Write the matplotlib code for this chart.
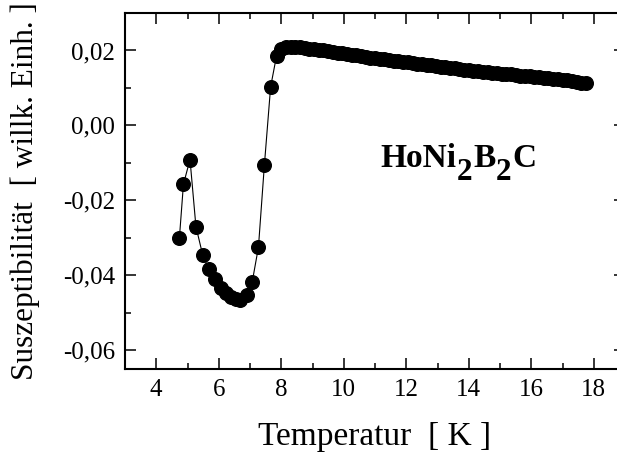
import matplotlib
matplotlib.use('Agg')
import matplotlib.pyplot as plt
from matplotlib.ticker import MultipleLocator, FuncFormatter

plt.rcParams['font.family'] = ['Liberation Serif', 'DejaVu Serif']

# temperature (K) and susceptibility (arb. units)
temp_low = [4.74, 4.87, 5.08, 5.27, 5.49, 5.69, 5.88, 6.06, 6.23, 6.39,
            6.55, 6.68, 6.89, 7.07, 7.27, 7.46, 7.66, 7.85]
chi_low = [-0.0301, -0.0157, -0.0091, -0.0270, -0.0347, -0.0384, -0.0410,
           -0.0433, -0.0448, -0.0458, -0.0464, -0.0467, -0.0453, -0.0418,
           -0.0325, -0.0106, 0.0103, 0.0186]

temp_high = [8.00, 8.15, 8.30, 8.45, 8.60, 8.75, 8.90, 9.05, 9.20, 9.35,
             9.50, 9.65, 9.80, 9.95, 10.10, 10.25, 10.40, 10.55, 10.70, 10.85,
             11.00, 11.15, 11.30, 11.45, 11.60, 11.75, 11.90, 12.05, 12.20, 12.35,
             12.50, 12.65, 12.80, 12.95, 13.10, 13.25, 13.40, 13.55, 13.70, 13.85,
             14.00, 14.15, 14.30, 14.45, 14.60, 14.75, 14.90, 15.05, 15.20, 15.35,
             15.50, 15.65, 15.80, 15.95, 16.10, 16.25, 16.40, 16.55, 16.70, 16.85,
             17.00, 17.15, 17.30, 17.45, 17.60, 17.75]
chi_high = [0.0203, 0.0208, 0.0210, 0.0210, 0.0209, 0.0207, 0.0205, 0.0203, 0.0201, 0.0200,
            0.0198, 0.0196, 0.0194, 0.0192, 0.0191, 0.0189, 0.0187, 0.0185, 0.0183, 0.0181,
            0.0179, 0.0178, 0.0176, 0.0174, 0.0172, 0.0171, 0.0169, 0.0168, 0.0166, 0.0164,
            0.0163, 0.0161, 0.0160, 0.0158, 0.0157, 0.0155, 0.0154, 0.0152, 0.0151, 0.0149,
            0.0148, 0.0146, 0.0145, 0.0143, 0.0142, 0.0141, 0.0139, 0.0138, 0.0137, 0.0136,
            0.0134, 0.0133, 0.0132, 0.0131, 0.0129, 0.0128, 0.0127, 0.0126, 0.0124, 0.0123,
            0.0122, 0.0120, 0.0119, 0.0116, 0.0114, 0.0112]

temp = temp_low + temp_high
chi = chi_low + chi_high

# formula label pieces: text, baseline shift (px), size (pt)
formula = [('HoNi', 0, 24), ('2', -13, 22.5), ('B', 0, 24), ('2', -13, 22.5), ('C', 0, 24)]

fig = plt.figure(figsize=(6.17, 4.57), dpi=100)
# axes run past the right edge of the figure, as in the original scan
ax = fig.add_axes([125 / 617, 88 / 457, 500 / 617, 356 / 457])

ax.plot(temp, chi, color='black', lw=0.8, marker='o', ms=9.8,
        markerfacecolor='black', markeredgecolor='black')

ax.set_xlim(3, 19)
ax.set_ylim(-0.065, 0.03)
ax.xaxis.set_major_locator(MultipleLocator(2))
ax.xaxis.set_minor_locator(MultipleLocator(1))
ax.yaxis.set_major_locator(MultipleLocator(0.02))
ax.yaxis.set_minor_locator(MultipleLocator(0.01))
ax.yaxis.set_major_formatter(FuncFormatter(lambda v, p: f'{v:.2f}'.replace('.', ',').replace('-0,00', '0,00')))

ax.tick_params(which='both', direction='in', top=True, right=True, width=1.1, labelsize=18)
ax.tick_params(which='major', length=7.6, pad=7)
ax.tick_params(which='minor', length=4.3)
for s in ax.spines.values():
    s.set_linewidth(1.5)

ax.set_xlabel('Temperatur  [ K ]', fontsize=24, labelpad=15)
ax.set_ylabel('Suszeptibilität  [ willk. Einh. ]', fontsize=22.5, labelpad=17)

# HoNi2B2C with large subscripts, placed piece by piece
renderer = fig.canvas.get_renderer()
x = 380.7
base = 457 - 166.7
for s, dy, size in formula:
    t = fig.text(x / 617, (base + dy) / 457, s, fontsize=size, weight='bold',
                 ha='left', va='baseline')
    x = t.get_window_extent(renderer).x1 + (1 if dy else 0)

fig.savefig('out.png', dpi=100)
